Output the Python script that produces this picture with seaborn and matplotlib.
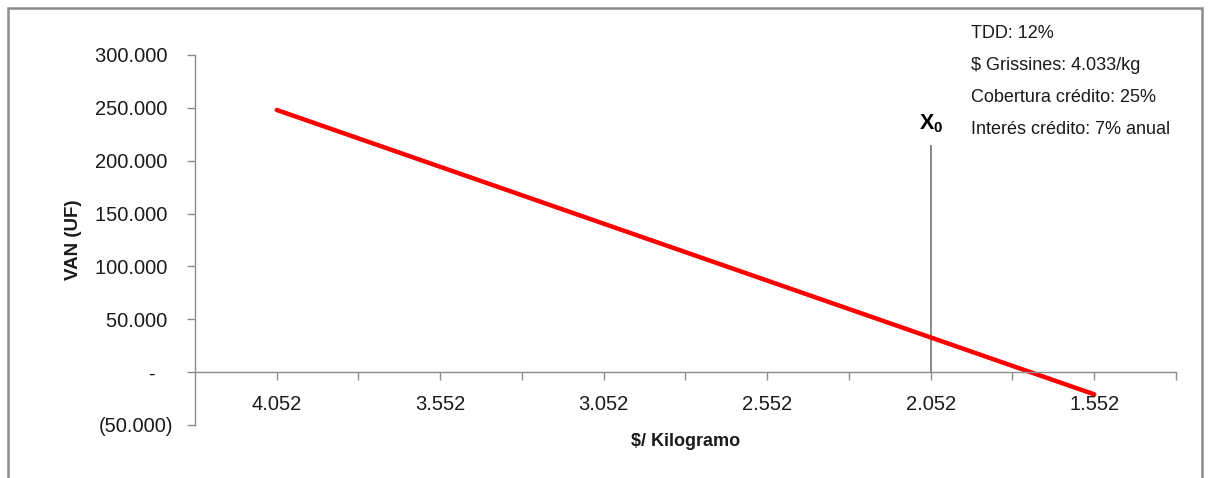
import matplotlib
matplotlib.use("Agg")
import matplotlib.pyplot as plt
from matplotlib.patches import Rectangle
import seaborn as sns
import pandas as pd

# ---- data ----
precio_kg = [4.052, 1.552]
van_uf = [248000, -21000]
x0_precio = [2.052]
x0_top = [215000]
xtick_vals = [4.052, 3.802, 3.552, 3.302, 3.052, 2.802, 2.552, 2.302, 2.052, 1.802, 1.552, 1.302]
xtick_labels = ["4.052", "", "3.552", "", "3.052", "", "2.552", "", "2.052", "", "1.552", ""]
ytick_vals = [300000, 250000, 200000, 150000, 100000, 50000, 0, -50000]
ytick_labels = ["300.000 ", "250.000 ", "200.000 ", "150.000 ", "100.000 ", "50.000 ", "-   ", "(50.000)"]
notes = ["TDD: 12%", "$ Grissines: 4.033/kg", "Cobertura crédito: 25%", "Interés crédito: 7% anual"]

sns.set_style("white")
plt.rcParams['font.family'] = ['Liberation Sans', 'DejaVu Sans']
plt.rcParams['mathtext.fontset'] = 'custom'
plt.rcParams['mathtext.bf'] = 'Liberation Sans:bold'
plt.rcParams['mathtext.rm'] = 'Liberation Sans'

W, H = 1213, 478
fig = plt.figure(figsize=(W / 100, H / 100), dpi=100)
ax = fig.add_axes([195 / W, 1 - 425 / H, (1176 - 195) / W, (425 - 55) / H])

df = pd.DataFrame({"precio": precio_kg, "van": van_uf})
sns.lineplot(data=df, x="precio", y="van", ax=ax, color="#ff0000", linewidth=3.2, sort=False)
ax.vlines(x0_precio, 0, x0_top, color="#808080", linewidth=1.3, zorder=1)

ax.set_xlim(4.302, 1.302)
ax.set_ylim(-50000, 300000)

ax.set_xticks(xtick_vals)
ax.set_xticklabels(xtick_labels)
ax.set_yticks(ytick_vals)
ax.set_yticklabels(ytick_labels)

gray = "#8c8c8c"
for s in ["top", "right"]:
    ax.spines[s].set_visible(False)
ax.spines["bottom"].set_position(("data", 0))
ax.spines["bottom"].set_color(gray)
ax.spines["left"].set_color(gray)
ax.spines["bottom"].set_linewidth(1.0)
ax.spines["left"].set_linewidth(1.0)

ax.tick_params(axis="x", bottom=True, direction="out", length=6, width=1, color=gray, pad=10.5,
               labelsize=14.5, labelcolor="#1a1a1a")
ax.tick_params(axis="y", left=True, direction="out", length=6, width=1, color=gray, pad=10,
               labelsize=14.5, labelcolor="#1a1a1a")
ax.grid(False)

ax.set_xlabel(r"\$/ Kilogramo", fontsize=13, fontweight="bold", color="#1a1a1a")
ax.xaxis.set_label_coords(0.5, -0.022)
ax.set_ylabel("VAN (UF)", fontsize=13.5, fontweight="bold", color="#1a1a1a")
ax.yaxis.set_label_coords(-0.115, 0.5)

# X0 label
ax.text(x0_precio[0], x0_top[0] + 9000, r"$\mathbf{X_0}$", fontsize=15.5, ha="center", va="bottom", color="black")

# notes
for i, t in enumerate(notes):
    fig.text(971 / W, 1 - (33 + 32 * i) / H, t.replace("$", r"\$"), fontsize=13,
             ha="left", va="center", color="#1a1a1a")

# outer border
fig.patches.append(Rectangle((8 / W, -0.05), (1202 - 8) / W, (1 - 8 / H) + 0.05,
                             transform=fig.transFigure, fill=False,
                             edgecolor="#8c8c8c", linewidth=1.8))

fig.savefig("out.png", dpi=100)
